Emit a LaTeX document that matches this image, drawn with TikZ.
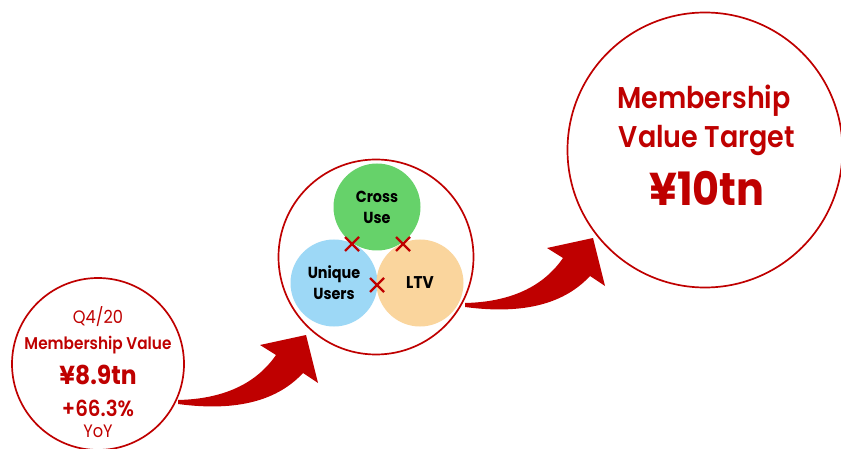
\documentclass[tikz,border=0pt]{standalone}
\usepackage{fontspec}
\setmainfont{Poppins}[FakeStretch=0.9,BoldFont={Poppins SemiBold}]
\newfontfamily\heavyfont{Poppins Bold}[FakeStretch=0.9]
\definecolor{rred}{RGB}{191,0,0}
\definecolor{cgreen}{RGB}{102,210,106}
\definecolor{cblue}{RGB}{157,216,246}
\definecolor{corange}{RGB}{250,213,157}
\tikzset{
  ring/.style={circle,draw=rred,line width=1.7pt,fill=white,inner sep=0pt},
  ball/.style={circle,inner sep=0pt,minimum size=87pt,align=center,font=\fontsize{16}{21}\heavyfont},
  redtxt/.style={text=rred,align=center,inner sep=0pt},
  xmark/.style={draw=rred,line width=2.3pt},
  bigarrow/.pic={
    \fill[rred] (0,0) .. controls (45,-1) and (78,-16) .. (98,-45)
      -- (82,-55) -- (128,-65) -- (140,-17) -- (125,-27)
      .. controls (100,0) and (60,12) .. (0,4) -- cycle;
  }
}
\begin{document}
\begin{tikzpicture}[x=1pt,y=-1pt]
\useasboundingbox (0,0) rectangle (841,449);
% arrows
\pic at (178,400) {bigarrow};
\pic at (465,303) {bigarrow};
% left circle
\node[ring,minimum size=172pt] (left) at (98,364) {};
\node[redtxt,font=\fontsize{18}{18}\selectfont] (q) at (98,317) {Q4/20};
\node[redtxt,font=\fontsize{17}{17}\selectfont\bfseries] (mv) at (98,345) {Membership Value};
\node[redtxt,font=\fontsize{26}{26}\heavyfont] (v1) at (98,375) {¥8.9tn};
\node[redtxt,font=\fontsize{22}{22}\selectfont\bfseries] (pct) at (98,408) {+66.3\%};
\node[redtxt,font=\fontsize{18}{18}\selectfont] (yoy) at (98,431) {YoY};
% middle circle
\node[ring,minimum size=195pt] (mid) at (376,257) {};
\node[ball,fill=cgreen] (cross) at (377,207) {Cross\\Use};
\node[ball,fill=cblue] (users) at (334,283) {Unique\\Users};
\node[ball,fill=corange,font=\fontsize{17}{17}\heavyfont] (ltv) at (420,283) {LTV};
\coordinate (x1) at (352,244);
\coordinate (x2) at (403,244);
\coordinate (x3) at (377,285);
\foreach \c in {x1,x2,x3}{
  \draw[xmark] ([shift={(-7,-7)}]\c) -- ([shift={(7,7)}]\c);
  \draw[xmark] ([shift={(-7,7)}]\c) -- ([shift={(7,-7)}]\c);
}
% right circle
\node[ring,minimum size=275pt] (right) at (705,150) {};
\node[redtxt,font=\fontsize{30}{30}\selectfont\bfseries] (t1) at (704,101) {Membership};
\node[redtxt,font=\fontsize{30}{30}\selectfont\bfseries] (t2) at (707,140) {Value Target};
\node[redtxt,font=\fontsize{46}{46}\heavyfont] (t3) at (707,188) {¥10tn};
\end{tikzpicture}
\end{document}
